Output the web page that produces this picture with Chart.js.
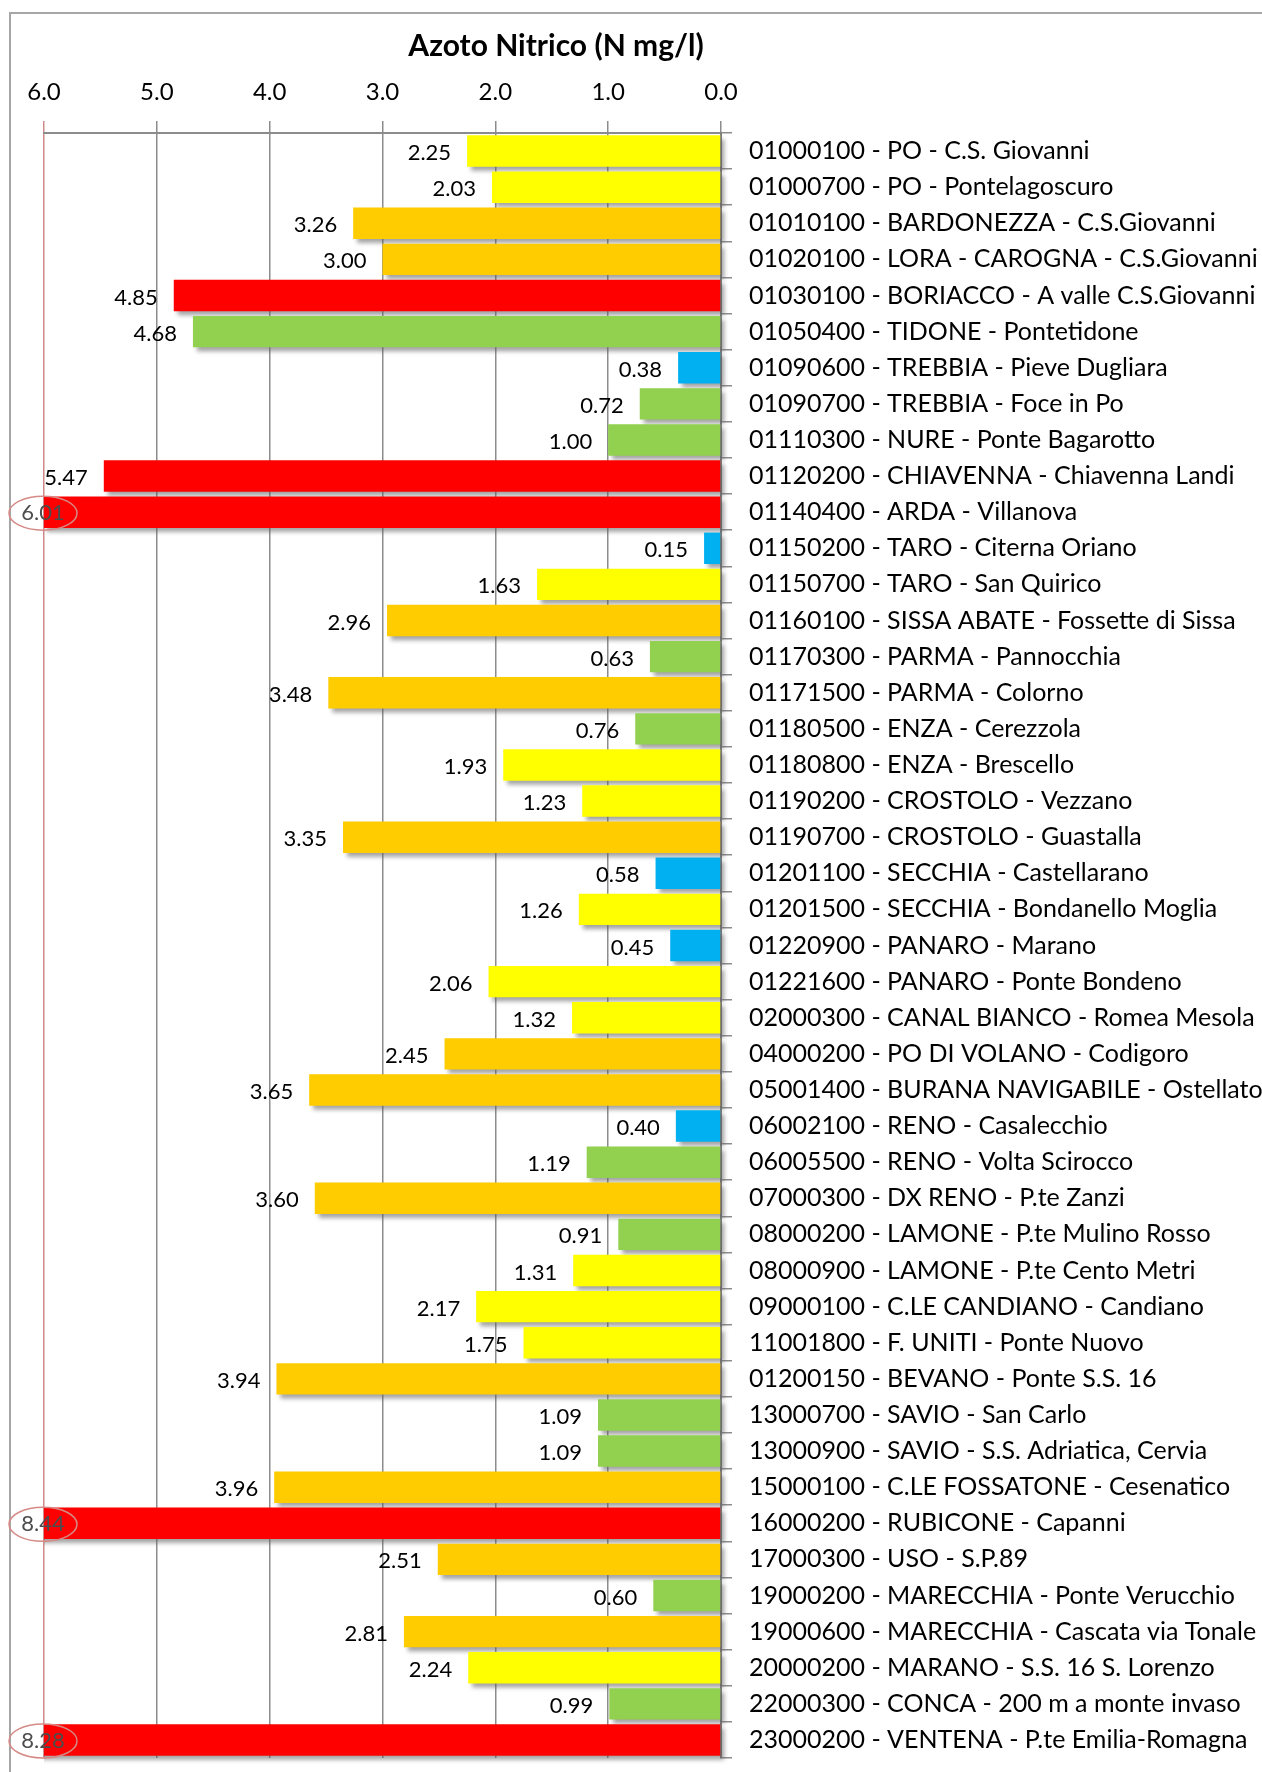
<!DOCTYPE html>
<html>
<head>
<meta charset="utf-8">
<title>Azoto Nitrico</title>
<script src="https://cdn.jsdelivr.net/npm/chart.js@4.4.1/dist/chart.umd.min.js"></script>
<style>
  html, body { margin: 0; padding: 0; background: #fff; }
  #wrap { width: 1262px; height: 1772px; position: relative; }
</style>
</head>
<body>
<div id="wrap"><canvas id="grafico" width="1262" height="1772"></canvas></div>
<script>
// stazioni di campionamento (etichette asse verticale)
const stazioni = [
  "01000100 - PO - C.S. Giovanni",
  "01000700 - PO - Pontelagoscuro",
  "01010100 - BARDONEZZA - C.S.Giovanni",
  "01020100 - LORA - CAROGNA - C.S.Giovanni",
  "01030100 - BORIACCO - A valle C.S.Giovanni",
  "01050400 - TIDONE - Pontetidone",
  "01090600 - TREBBIA - Pieve Dugliara",
  "01090700 - TREBBIA - Foce in Po",
  "01110300 - NURE - Ponte Bagarotto",
  "01120200 - CHIAVENNA - Chiavenna Landi",
  "01140400 - ARDA - Villanova",
  "01150200 - TARO - Citerna Oriano",
  "01150700 - TARO - San Quirico",
  "01160100 - SISSA ABATE - Fossette di Sissa",
  "01170300 - PARMA - Pannocchia",
  "01171500 - PARMA - Colorno",
  "01180500 - ENZA - Cerezzola",
  "01180800 - ENZA - Brescello",
  "01190200 - CROSTOLO - Vezzano",
  "01190700 - CROSTOLO - Guastalla",
  "01201100 - SECCHIA - Castellarano",
  "01201500 - SECCHIA - Bondanello Moglia",
  "01220900 - PANARO - Marano",
  "01221600 - PANARO - Ponte Bondeno",
  "02000300 - CANAL BIANCO - Romea Mesola",
  "04000200 - PO DI VOLANO - Codigoro",
  "05001400 - BURANA NAVIGABILE - Ostellato",
  "06002100 - RENO - Casalecchio",
  "06005500 - RENO - Volta Scirocco",
  "07000300 - DX RENO - P.te Zanzi",
  "08000200 - LAMONE - P.te Mulino Rosso",
  "08000900 - LAMONE - P.te Cento Metri",
  "09000100 - C.LE CANDIANO - Candiano",
  "11001800 - F. UNITI - Ponte Nuovo",
  "01200150 - BEVANO - Ponte S.S. 16",
  "13000700 - SAVIO - San Carlo",
  "13000900 - SAVIO - S.S. Adriatica, Cervia",
  "15000100 - C.LE FOSSATONE - Cesenatico",
  "16000200 - RUBICONE - Capanni",
  "17000300 - USO - S.P.89",
  "19000200 - MARECCHIA - Ponte Verucchio",
  "19000600 - MARECCHIA - Cascata via Tonale",
  "20000200 - MARANO - S.S. 16 S. Lorenzo",
  "22000300 - CONCA - 200 m a monte invaso",
  "23000200 - VENTENA - P.te Emilia-Romagna"
];

// concentrazione media N-NO3 (mg/l)
const valori = [
  2.25, 2.03, 3.26, 3.00, 4.85, 4.68, 0.38, 0.72, 1.00, 5.47,
  6.01, 0.15, 1.63, 2.96, 0.63, 3.48, 0.76, 1.93, 1.23, 3.35,
  0.58, 1.26, 0.45, 2.06, 1.32, 2.45, 3.65, 0.40, 1.19, 3.60,
  0.91, 1.31, 2.17, 1.75, 3.94, 1.09, 1.09, 3.96, 8.44, 2.51,
  0.60, 2.81, 2.24, 0.99, 8.28
];

// classe di qualita' di ogni stazione
const classi = [
  "Y", "Y", "O", "O", "R", "G", "B", "G", "G", "R",
  "R", "B", "Y", "O", "G", "O", "G", "Y", "Y", "O",
  "B", "Y", "B", "Y", "Y", "O", "O", "B", "G", "O",
  "G", "Y", "Y", "Y", "O", "G", "G", "O", "R", "O",
  "G", "O", "Y", "G", "R"
];

const colori = { B: "#00B0F0", G: "#92D050", Y: "#FFFF00", O: "#FFCC00", R: "#FF0000" };

const scalaMin = 0;
const scalaMax = 6;
const titolo = "Azoto Nitrico (N mg/l)";

const FONT = "Lato, 'Open Sans', sans-serif";

const cornice = {
  id: "cornice",
  beforeDraw(chart) {
    const c = chart.ctx;
    c.save();
    c.strokeStyle = "#a6a6a6";
    c.lineWidth = 2;
    c.beginPath();
    c.moveTo(10, chart.height);
    c.lineTo(10, 13);
    c.lineTo(chart.width, 13);
    c.stroke();
    c.restore();
  },
  afterDraw(chart) {
    const c = chart.ctx;
    c.save();
    c.fillStyle = "#000";
    c.font = "bold 30px " + FONT;
    c.textAlign = "center";
    c.textBaseline = "middle";
    c.fillText(titolo, 556, 46);
    c.restore();
  }
};

// ombra sotto le barre + etichette dei valori
const etichette = {
  id: "etichette",
  beforeDatasetsDraw(chart) {
    const c = chart.ctx;
    const area = chart.chartArea;
    const meta = chart.getDatasetMeta(0);
    c.save();
    c.beginPath();
    c.rect(area.left, area.top, area.right - area.left + 8, area.bottom - area.top + 8);
    c.clip();
    c.filter = "blur(2px)";
    c.fillStyle = "rgba(90,90,90,0.55)";
    meta.data.forEach(bar => {
      const l = Math.min(bar.x, bar.base);
      const w = Math.abs(bar.base - bar.x);
      c.fillRect(l + 4, bar.y - bar.height / 2 + 4, w, bar.height);
    });
    c.restore();
  },
  afterDatasetsDraw(chart) {
    const c = chart.ctx;
    const area = chart.chartArea;
    const meta = chart.getDatasetMeta(0);
    c.save();
    c.font = "22px " + FONT;
    c.textBaseline = "middle";
    meta.data.forEach((bar, i) => {
      const v = valori[i];
      const txt = v.toFixed(2);
      if (v > scalaMax) {
        const cx = area.left - 1;
        const cy = bar.y + 1;
        c.fillStyle = "#4d4d4d";
        c.textAlign = "center";
        c.fillText(txt, cx, cy);
        c.strokeStyle = "#d58a86";
        c.lineWidth = 1.5;
        c.beginPath();
        c.ellipse(cx, cy, 34, 17, 0, 0, Math.PI * 2);
        c.stroke();
      } else {
        c.fillStyle = "#000";
        c.textAlign = "right";
        c.fillText(txt, bar.x - 16, bar.y + 2);
      }
    });
    c.restore();
  }
};

function disegna() {
  new Chart(document.getElementById("grafico"), {
    type: "bar",
    data: {
      labels: stazioni,
      datasets: [{
        data: valori,
        backgroundColor: classi.map(k => colori[k]),
        borderWidth: 0,
        barPercentage: 0.87,
        categoryPercentage: 1.0
      }]
    },
    options: {
      indexAxis: "y",
      responsive: false,
      animation: false,
      layout: { padding: { left: 44, top: 0, right: 0, bottom: 14 } },
      plugins: {
        legend: { display: false },
        title: { display: false },
        tooltip: { enabled: false }
      },
      scales: {
        x: {
          position: "top",
          reverse: true,
          min: scalaMin,
          max: scalaMax,
          afterFit: s => { s.height = 133; },
          ticks: {
            stepSize: 1,
            padding: 14,
            color: "#000",
            font: { family: FONT, size: 24 },
            callback: v => Number(v).toFixed(1)
          },
          grid: {
            color: ctx => (ctx.tick && ctx.tick.value === scalaMax) ? "#d08a8a" : "#8c8c8c",
            lineWidth: 1.5,
            tickLength: 12
          },
          border: { display: true, color: "#8c8c8c", width: 2 }
        },
        y: {
          position: "right",
          afterFit: s => { s.width = 541; s.paddingTop = 0; s.paddingBottom = 0; },
          ticks: {
            padding: 17,
            color: "#000",
            autoSkip: false,
            font: { family: FONT, size: 25 }
          },
          grid: {
            drawOnChartArea: false,
            color: "#8c8c8c",
            lineWidth: 1.5,
            tickLength: 11,
            offset: true
          },
          border: { display: true, color: "#7f7f7f", width: 2 }
        }
      }
    },
    plugins: [cornice, etichette]
  });
}

document.fonts.load("25px Lato").then(disegna, disegna);
</script>
</body>
</html>
